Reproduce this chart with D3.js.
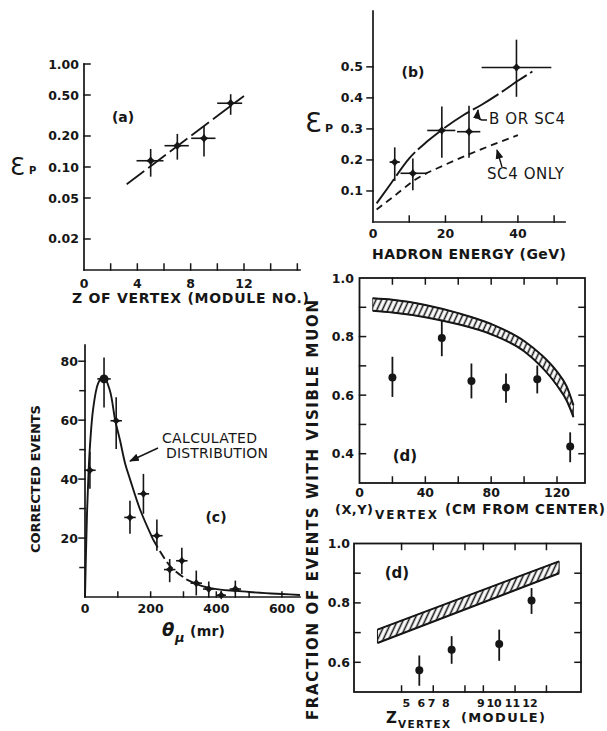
<!DOCTYPE html>
<html><head><meta charset="utf-8">
<script src="https://cdn.jsdelivr.net/npm/d3@7/dist/d3.min.js"></script>
<style>body{margin:0;background:#fff}svg{display:block}</style>
</head><body><svg id="c" width="607" height="731"></svg>
<script>
// ---------------- Panel (a)
const aModule=[5,7,9,11];
const aEff=[0.115,0.161,0.19,0.416];
const aEffHi=[0.147,0.206,0.246,0.50];
const aEffLo=[0.082,0.12,0.129,0.327];
const aModLo=[4.0,6.1,8.1,10.05];
const aModHi=[5.9,7.8,9.8,11.8];
const aFitModule=[3.2,12];
const aFitEff=[0.068,0.49];
const aYTicks=[0.02,0.05,0.1,0.2,0.5,1.0];
const aYTickLabels=["0.02","0.05","0.10","0.20","0.50","1.00"];
const aXTicks=[2,4,6,8,10,12,14,16];
const aXLabels=[0,4,8,12];
// ---------------- Panel (b)
const bEnergy=[6,11,19,26.5,39.6];
const bEff=[0.193,0.157,0.295,0.291,0.498];
const bEffHi=[0.238,0.202,0.37,0.372,0.585];
const bEffLo=[0.135,0.105,0.21,0.21,0.406];
const bEnergyLo=[4.8,7.8,15.2,23.4,30.2];
const bEnergyHi=[7.2,14.7,22.5,29.4,49];
const bCurveBEnergy=[1,5,10,15,19,25,30,35,40,44];
const bCurveBEff=[0.06,0.125,0.205,0.26,0.297,0.345,0.378,0.415,0.455,0.485];
const bCurveSCEnergy=[1,6,11.5,20,30,40];
const bCurveSCEff=[0.04,0.085,0.135,0.185,0.235,0.28];
const bYTicks=[0.1,0.2,0.3,0.4,0.5];
const bXTicks=[10,20,30,40,50];
const bXLabels=[0,20,40];
// ---------------- Panel (c)
const cTheta=[15,58,95,137,178,219,258,295,339,377,415,458];
const cEvents=[43,74,59.8,27,35,20.8,9.3,12.3,4.7,2.7,0.6,2.7];
const cEventsHi=[49,81,67.5,32.4,41.5,26,12.6,16.4,8.7,5,1.8,5.3];
const cEventsLo=[37,64.6,50.5,21.7,28.5,16,5.3,8.1,0.8,0,0,0];
const cThetaErr=[15,18,15,15,15,15,15,15,15,15,12,15];
const cCurveTheta=[0,3,6,10,15,25,40,56,76,92,107,122,137,168,208,260,310,360,412,460,500,550,600,655];
const cCurveEvents=[0,15,28,40,51,64,72.5,75,70,60,53,45.4,40,29.6,19.4,10.4,5.9,3.6,2.5,2.1,1.7,1.3,1.0,0.7];
const cYMajor=[20,40,60,80];
const cYMinor=[10,30,50,70];
const cXTicks=[100,200,300,400,500,600];
const cXLabels=[0,200,400,600];
// ---------------- Panel (d) upper
const dR=[20,50,68,89,108,128];
const dFrac=[0.66,0.795,0.648,0.626,0.654,0.425];
const dFracHi=[0.728,0.854,0.705,0.671,0.698,0.47];
const dFracLo=[0.597,0.736,0.592,0.577,0.609,0.374];
const dBandR=[8,20,40,60,80,100,110,120,126,130];
const dBandHi=[0.931,0.926,0.908,0.88,0.843,0.785,0.74,0.68,0.628,0.565];
const dBandLo=[0.888,0.882,0.866,0.842,0.808,0.75,0.70,0.633,0.58,0.525];
const dYTicks=[0.4,0.5,0.6,0.7,0.8,0.9];
const dYLabels=[0.4,0.6,0.8,1.0];
const dXTicks=[20,40,60,80,100,120];
const dXLabels=[0,40,80,120];
// ---------------- Panel (d) lower
const eZ=[1.56,2.58,4.08,5.1];
const eFrac=[0.573,0.642,0.662,0.808];
const eFracHi=[0.62,0.685,0.707,0.847];
const eFracLo=[0.524,0.598,0.608,0.766];
const eBandZ=[0.24,5.97];
const eBandHi=[0.71,0.94];
const eBandLo=[0.665,0.90];
const eModuleLabels=["5","6","7","8","9","10","11","12"];
const eModulePos=[1.15,1.62,1.95,2.4,3.5,3.92,4.5,5.05];
const eXTicks=[1,2,3,3.58,4.58,5.57];
const eYTicks=[0.6,0.7,0.8,0.9];
const eYLabels=[0.6,0.8,1.0];

// =====================================================
const svg=d3.select("#c");
const F='"DejaVu Sans", sans-serif';
const K="#161616";
const defs=svg.append("defs");
defs.append("pattern").attr("id","hatch").attr("patternUnits","userSpaceOnUse")
  .attr("width",5).attr("height",10).attr("patternTransform","rotate(25)")
  .append("line").attr("x1",2.5).attr("y1",0).attr("x2",2.5).attr("y2",10)
  .attr("stroke",K).attr("stroke-width",1.6);
defs.append("marker").attr("id","ah").attr("viewBox","0 0 10 10").attr("refX",9).attr("refY",5)
  .attr("markerWidth",7).attr("markerHeight",7).attr("orient","auto")
  .append("path").attr("d","M0,1 L10,5 L0,9 z").attr("fill",K);

function txt(x,y,s,o={}){
  const t=svg.append("text").attr("x",x).attr("y",y).attr("dy","0.36em")
    .attr("text-anchor",o.anchor||"middle").attr("font-size",o.size||12)
    .attr("font-weight",o.weight||"bold").attr("font-family",o.family||F)
    .attr("fill",K).text(s);
  if(o.len) t.attr("textLength",o.len).attr("lengthAdjust","spacing");
  if(o.rotate) t.attr("transform",`rotate(${o.rotate},${x},${y})`);
  if(o.style) t.attr("font-style",o.style);
  return t;
}
function seg(x1,y1,x2,y2,w=1.7){
  svg.append("line").attr("x1",x1).attr("y1",y1).attr("x2",x2).attr("y2",y2)
    .attr("stroke",K).attr("stroke-width",w).attr("stroke-linecap","square");
}
function yTicks(s,vals,x,len){vals.forEach(v=>seg(x,s(v),x+len,s(v),1.5));}
function xTicks(s,vals,y,len){vals.forEach(v=>seg(s(v),y,s(v),y+len,1.5));}
const star4={draw(ctx,size){const r=Math.sqrt(size),q=r*0.42;
  ctx.moveTo(0,-r);ctx.lineTo(q,-q);ctx.lineTo(r,0);ctx.lineTo(q,q);ctx.lineTo(0,r);
  ctx.lineTo(-q,q);ctx.lineTo(-r,0);ctx.lineTo(-q,-q);ctx.closePath();}};
function pts(xs,ys,sx,sy,sym,size){
  svg.append("g").selectAll("path").data(xs).join("path")
    .attr("transform",(d,i)=>`translate(${sx(d)},${sy(ys[i])})`)
    .attr("d",d3.symbol(sym,size)).attr("fill",K);
}
function errs(xs,lo,hi,sx,sy,w=1.6){xs.forEach((d,i)=>seg(sx(d),sy(lo[i]),sx(d),sy(hi[i]),w));}
function herrs(ys,lo,hi,sx,sy,w=1.6){ys.forEach((d,i)=>seg(sx(lo[i]),sy(d),sx(hi[i]),sy(d),w));}
function curve(xs,ys,sx,sy,dash,w=1.9,cv=d3.curveMonotoneX){
  const p=svg.append("path").datum(xs.map((d,i)=>[d,ys[i]]))
    .attr("d",d3.line().x(d=>sx(d[0])).y(d=>sy(d[1])).curve(cv))
    .attr("fill","none").attr("stroke",K).attr("stroke-width",w);
  if(dash) p.attr("stroke-dasharray",dash);
  return p;
}

// ---------------- Panel (a)
{
const x=d3.scaleLinear().domain([0,16.2]).range([84,300]);
const y=d3.scaleLog().domain([0.01,1]).range([270,64]);
seg(84,64,84,270); seg(84,270,300,270);
yTicks(y,aYTicks,84,6); xTicks(x,aXTicks,270,-6);
aYTicks.forEach((v,i)=>txt(79,y(v),aYTickLabels[i],{anchor:"end",size:12.5}));
aXLabels.forEach(v=>txt(x(v),283,String(v),{size:12.5}));
txt(190.5,298,"Z OF VERTEX (MODULE NO.)",{size:14,len:237});
txt(123,117,"(a)",{size:14});
txt(10,166,"Ɛ",{anchor:"start",size:24,weight:"normal"});
txt(29,170,"P",{anchor:"start",size:10});
curve(aFitModule,aFitEff,x,y,"22,5",1.8,d3.curveLinear);
errs(aModule,aEffLo,aEffHi,x,y); herrs(aEff,aModLo,aModHi,x,y);
pts(aModule,aEff,x,y,star4,20);
}
// ---------------- Panel (b)
{
const x=d3.scaleLinear().domain([0,53]).range([373,565]);
const y=d3.scaleLinear().domain([0,0.68]).range([222,11]);
seg(373,11,373,222); seg(373,222,565,222);
yTicks(y,bYTicks,373,-6); xTicks(x,bXTicks,222,-6);
bYTicks.forEach(v=>txt(363,y(v),v.toFixed(1),{anchor:"end",size:12.5}));
bXLabels.forEach(v=>txt(x(v),233,String(v),{size:12.5}));
txt(469,254,"HADRON ENERGY (GeV)",{size:14,len:194});
txt(413,72,"(b)",{size:14});
txt(305,122,"Ɛ",{anchor:"start",size:27,weight:"normal"});
txt(325,128,"P",{anchor:"start",size:11});
curve(bCurveBEnergy,bCurveBEff,x,y,"30,4");
curve(bCurveSCEnergy,bCurveSCEff,x,y,"7,5",1.8);
errs(bEnergy,bEffLo,bEffHi,x,y); herrs(bEff,bEnergyLo,bEnergyHi,x,y);
pts(bEnergy,bEff,x,y,star4,20);
txt(489,119,"B OR SC4",{anchor:"start",size:15,weight:"normal",len:76});
svg.append("path").attr("d","M487,120 L482,120 Q477,119 477.5,114 L478,110")
  .attr("fill","none").attr("stroke",K).attr("stroke-width",1.4).attr("marker-end","url(#ah)");
txt(487,174,"SC4 ONLY",{anchor:"start",size:15,weight:"normal",len:77});
svg.append("path").attr("d","M502,167 L497,150").attr("stroke",K).attr("stroke-width",1.4)
  .attr("marker-end","url(#ah)");
}
// ---------------- Panel (c)
{
const x=d3.scaleLinear().domain([0,655]).range([85,300]);
const y=d3.scaleLinear().domain([0,85.5]).range([597,345]);
seg(85,345,85,597); seg(85,597,300,597);
yTicks(y,cYMajor,85,-6); yTicks(y,cYMinor,85,-5); xTicks(x,cXTicks,597,-5);
cYMajor.forEach(v=>txt(78,y(v),String(v),{anchor:"end",size:12.5}));
cXLabels.forEach(v=>txt(x(v),608,String(v),{size:12.5}));
txt(35,479,"CORRECTED EVENTS",{size:13,len:148,rotate:-90});
const split=(a,b)=>cCurveTheta.map((d,i)=>i).filter(i=>cCurveTheta[i]>=a&&cCurveTheta[i]<=b);
const s1=split(0,208),s2=split(208,310),s3=split(310,700);
[[s1,null],[s2,"9,4"],[s3,null]].forEach(([ix,dash])=>
  curve(ix.map(i=>cCurveTheta[i]),ix.map(i=>cCurveEvents[i]),x,y,dash,1.9,d3.curveCatmullRom));
errs(cTheta,cEventsLo,cEventsHi,x,y);
cTheta.forEach((d,i)=>seg(x(d-cThetaErr[i]),y(cEvents[i]),x(d+cThetaErr[i]),y(cEvents[i]),1.6));
pts(cTheta,cEvents,x,y,star4,18);
svg.append("circle").attr("cx",x(cTheta[1])).attr("cy",y(cEvents[1])).attr("r",4.5).attr("fill",K);
txt(162,438,"CALCULATED",{anchor:"start",size:14,weight:"normal",len:95});
txt(166,453,"DISTRIBUTION",{anchor:"start",size:14,weight:"normal",len:102});
svg.append("path").attr("d","M158,448 L130,461").attr("stroke",K).attr("stroke-width",1.4)
  .attr("marker-end","url(#ah)");
txt(216,517,"(c)",{size:14});
txt(162,630,"θ",{anchor:"start",size:18,weight:"bold",style:"italic"});
txt(175,637,"μ",{anchor:"start",size:13,weight:"bold",style:"italic"});
txt(190,631,"(mr)",{anchor:"start",size:14,len:35});
}
// ---------------- Panel (d) upper
{
const x=d3.scaleLinear().domain([0,137]).range([359.5,585]);
const y=d3.scaleLinear().domain([0.3,1.0]).range([483,278]);
svg.append("rect").attr("x",359.5).attr("y",278).attr("width",225.5).attr("height",205)
  .attr("fill","none").attr("stroke",K).attr("stroke-width",1.8);
yTicks(y,dYTicks,359.5,6); yTicks(y,dYTicks,585,-6);
xTicks(x,dXTicks,483,-6); xTicks(x,dXTicks,278,6);
dYLabels.forEach(v=>txt(354,y(v),v.toFixed(1),{anchor:"end",size:12.5}));
dXLabels.forEach(v=>txt(x(v),492,String(v),{size:12.5}));
const band=dBandR.map((d,i)=>[d,dBandLo[i],dBandHi[i]]);
svg.append("path").datum(band)
  .attr("d",d3.area().x(d=>x(d[0])).y0(d=>y(d[1])).y1(d=>y(d[2])).curve(d3.curveMonotoneX))
  .attr("fill","url(#hatch)").attr("stroke",K).attr("stroke-width",0.8);
curve(dBandR,dBandHi,x,y,null,2); curve(dBandR,dBandLo,x,y,null,2);
errs(dR,dFracLo,dFracHi,x,y,1.8);
svg.append("g").selectAll("circle").data(dR).join("circle")
  .attr("cx",d=>x(d)).attr("cy",(d,i)=>y(dFrac[i])).attr("r",4).attr("fill",K);
txt(405,456,"(d)",{size:15});
txt(335,509,"(X,Y)",{anchor:"start",size:13,len:38});
txt(375,515,"VERTEX",{anchor:"start",size:12,len:62});
txt(445,509,"(CM FROM CENTER)",{anchor:"start",size:13.5,len:160});
}
// ---------------- Panel (d) lower
{
const x=d3.scaleLinear().domain([-0.5,6.66]).range([354,581]);
const y=d3.scaleLinear().domain([0.5,1.0]).range([692,543.5]);
svg.append("rect").attr("x",354).attr("y",543.5).attr("width",227).attr("height",148.5)
  .attr("fill","none").attr("stroke",K).attr("stroke-width",1.8);
yTicks(y,eYTicks,354,6); yTicks(y,eYTicks,581,-6);
xTicks(x,eXTicks,692,-6); xTicks(x,eXTicks,543.5,6);
eYLabels.forEach(v=>txt(350,y(v),v.toFixed(1),{anchor:"end",size:12.5}));
eModulePos.forEach((v,i)=>txt(x(v),703,eModuleLabels[i],{size:11}));
const band=eBandZ.map((d,i)=>[d,eBandLo[i],eBandHi[i]]);
svg.append("path").datum(band)
  .attr("d",d3.area().x(d=>x(d[0])).y0(d=>y(d[1])).y1(d=>y(d[2])))
  .attr("fill","url(#hatch)").attr("stroke",K).attr("stroke-width",1);
curve(eBandZ,eBandHi,x,y,null,2,d3.curveLinear); curve(eBandZ,eBandLo,x,y,null,2,d3.curveLinear);
errs(eZ,eFracLo,eFracHi,x,y,1.8);
svg.append("g").selectAll("circle").data(eZ).join("circle")
  .attr("cx",d=>x(d)).attr("cy",(d,i)=>y(eFrac[i])).attr("r",4).attr("fill",K);
txt(397,573,"(d)",{size:15});
txt(386,718,"Z",{anchor:"start",size:15});
txt(398,724.5,"VERTEX",{anchor:"start",size:10.5,len:52});
txt(461,717,"(MODULE)",{anchor:"start",size:13,len:84});
}
// shared y title
txt(313,510,"FRACTION OF EVENTS WITH VISIBLE MUON",{size:15,len:420,rotate:-90});
</script></body></html>
